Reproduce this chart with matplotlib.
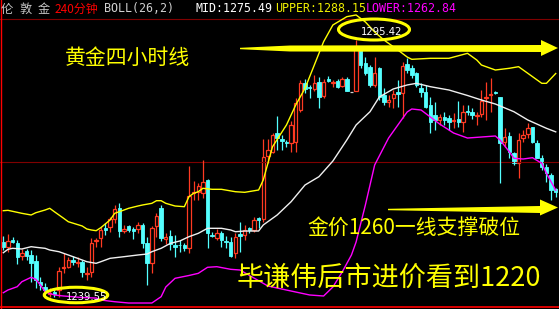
import matplotlib
matplotlib.use("Agg")
import matplotlib.pyplot as plt
from matplotlib.patches import Ellipse, Polygon
import numpy as np

plt.rcParams["font.family"] = ["Noto Sans CJK SC", "DejaVu Sans"]

# 240-minute London gold candles
opens = [1251.65, 1250.44, 1252.02, 1251.30, 1248.55, 1249.63, 1248.77, 1247.46, 1242.97, 1241.82,
         1240.30, 1240.74, 1241.17, 1245.88, 1246.23, 1247.68, 1247.14, 1247.31, 1244.64, 1245.14,
         1251.91, 1252.39, 1254.56, 1254.78, 1256.58, 1258.90, 1253.97, 1255.06, 1254.47, 1254.34,
         1255.28, 1251.43, 1246.96, 1255.06, 1258.90, 1252.17, 1252.89, 1250.94, 1251.04, 1250.94,
         1250.22, 1262.28, 1262.50, 1262.15, 1265.04, 1253.21, 1252.39, 1253.60, 1251.74, 1251.65,
         1249.13, 1253.32, 1253.10, 1254.56, 1254.19, 1256.73, 1256.51, 1270.25, 1271.18, 1275.17,
         1273.94, 1273.22, 1273.00, 1273.35, 1280.23, 1286.15, 1285.22, 1284.79, 1286.37, 1283.27,
         1286.85, 1286.15, 1286.52, 1285.50, 1286.96, 1284.07, 1284.35, 1293.62, 1290.36, 1289.63,
         1285.66, 1289.28, 1283.49, 1281.90, 1282.77, 1284.20, 1283.85, 1290.15, 1289.41, 1288.19,
         1284.94, 1284.07, 1281.32, 1279.15, 1278.06, 1278.78, 1278.56, 1277.84, 1278.28, 1277.56,
         1280.01, 1279.86, 1278.93, 1279.30, 1282.77, 1283.49, 1284.07, 1283.12, 1273.22, 1274.65,
         1270.83, 1268.66, 1274.22, 1275.02, 1276.61, 1273.00, 1269.75, 1267.93, 1266.13, 1263.09]
highs = [1252.89, 1253.32, 1252.67, 1252.02, 1250.13, 1250.13, 1249.85, 1248.77, 1244.06, 1242.76,
         1241.60, 1241.39, 1246.16, 1249.20, 1248.40, 1248.55, 1248.40, 1247.68, 1246.16, 1252.45,
         1252.45, 1254.91, 1255.71, 1257.08, 1259.62, 1259.98, 1255.28, 1255.28, 1254.91, 1255.99,
         1255.64, 1252.74, 1255.06, 1257.94, 1259.62, 1253.47, 1254.19, 1253.10, 1252.02, 1251.37,
         1268.08, 1264.82, 1264.32, 1269.38, 1265.26, 1253.82, 1254.34, 1253.97, 1252.89, 1252.74,
         1253.60, 1255.99, 1255.28, 1254.91, 1257.08, 1257.08, 1273.94, 1273.87, 1275.17, 1278.99,
         1274.81, 1273.72, 1277.84, 1282.77, 1286.74, 1286.96, 1285.66, 1287.83, 1287.46, 1286.89,
         1287.61, 1286.74, 1286.89, 1287.46, 1287.39, 1284.07, 1295.42, 1293.97, 1291.80, 1290.00,
         1291.80, 1289.63, 1284.94, 1283.49, 1284.57, 1286.74, 1290.71, 1291.45, 1290.00, 1288.54,
         1286.02, 1285.66, 1283.12, 1282.03, 1279.36, 1279.86, 1279.15, 1279.51, 1282.18, 1281.32,
         1281.32, 1280.60, 1279.86, 1284.57, 1286.37, 1287.24, 1284.35, 1283.12, 1276.26, 1275.39,
         1271.18, 1275.17, 1275.89, 1277.34, 1276.61, 1273.72, 1270.47, 1268.45, 1266.49, 1263.37]
lows = [1249.85, 1249.48, 1251.37, 1246.75, 1247.68, 1247.68, 1242.97, 1241.67, 1241.17, 1240.67,
        1239.72, 1239.55, 1239.72, 1244.92, 1245.88, 1246.60, 1246.10, 1243.93, 1243.34, 1244.06,
        1250.57, 1250.57, 1253.10, 1253.82, 1255.64, 1252.74, 1253.47, 1253.82, 1252.17, 1253.60,
        1250.35, 1242.26, 1244.79, 1252.74, 1251.87, 1251.15, 1249.85, 1248.40, 1249.48, 1249.53,
        1249.26, 1260.70, 1260.70, 1261.07, 1250.22, 1252.74, 1252.02, 1250.57, 1250.22, 1248.40,
        1248.05, 1249.48, 1252.02, 1253.47, 1253.82, 1254.56, 1255.99, 1268.66, 1270.83, 1271.55,
        1271.55, 1272.27, 1271.18, 1271.18, 1279.86, 1283.98, 1282.77, 1284.35, 1280.60, 1282.77,
        1286.24, 1285.29, 1285.07, 1285.29, 1284.35, 1284.07, 1284.35, 1289.28, 1287.83, 1285.29,
        1285.29, 1282.40, 1281.32, 1280.95, 1280.60, 1280.95, 1278.43, 1288.19, 1287.11, 1285.29,
        1283.12, 1280.60, 1275.17, 1275.89, 1276.98, 1276.98, 1275.89, 1276.26, 1276.61, 1275.52,
        1279.15, 1278.28, 1276.98, 1278.78, 1278.06, 1279.86, 1283.80, 1264.32, 1272.27, 1269.75,
        1268.30, 1265.41, 1273.35, 1274.22, 1273.07, 1269.75, 1267.29, 1264.67, 1260.70, 1261.42]
closes = [1250.44, 1251.87, 1251.52, 1248.40, 1249.13, 1248.55, 1246.96, 1243.34, 1242.26, 1241.17,
          1240.60, 1240.30, 1245.29, 1246.23, 1247.68, 1247.31, 1247.31, 1245.14, 1244.86, 1251.30,
          1252.13, 1254.19, 1254.19, 1256.51, 1258.68, 1253.97, 1254.41, 1254.19, 1254.04, 1255.28,
          1251.43, 1246.96, 1254.69, 1257.23, 1252.39, 1252.61, 1251.09, 1250.57, 1250.83, 1250.18,
          1261.57, 1262.50, 1263.74, 1264.67, 1253.47, 1252.99, 1253.47, 1252.02, 1251.59, 1248.55,
          1252.74, 1252.95, 1254.19, 1254.19, 1256.36, 1256.36, 1269.96, 1271.55, 1274.81, 1274.09,
          1273.50, 1273.07, 1276.98, 1281.68, 1286.02, 1284.79, 1285.07, 1286.02, 1283.12, 1286.37,
          1286.63, 1286.37, 1285.29, 1286.96, 1284.35, 1284.07, 1293.62, 1290.00, 1288.19, 1285.66,
          1288.19, 1283.12, 1281.90, 1282.40, 1283.64, 1283.64, 1289.84, 1288.91, 1287.83, 1285.66,
          1284.07, 1280.95, 1277.69, 1278.06, 1278.78, 1278.06, 1277.69, 1278.06, 1277.56, 1279.86,
          1279.73, 1279.15, 1279.15, 1282.18, 1283.12, 1283.70, 1283.90, 1273.13, 1274.44, 1271.18,
          1268.66, 1273.72, 1274.81, 1276.26, 1273.35, 1269.88, 1267.93, 1266.49, 1262.87, 1262.50]

# BOLL(26,2) lines, read at these candle positions
upper_idx = [0, 1, 3, 4, 6, 7, 9, 10, 11, 13, 14, 17, 18, 19, 20, 21, 23, 24, 26, 27, 29, 30,
             32, 33, 34, 35, 37, 39, 40, 41, 42, 43, 45, 47, 50, 52, 55, 56, 57, 58, 61, 63, 65,
             67, 69, 71, 74, 76, 78, 80, 82, 85, 87, 88, 92, 96, 100, 102, 103, 106, 109, 111,
             113, 116, 117, 119]
upper_val = [1258.38, 1258.46, 1258.03, 1257.81, 1257.45, 1257.94, 1258.53, 1258.90, 1258.16,
             1256.73, 1255.99, 1255.06, 1254.41, 1254.19, 1254.04, 1254.69, 1256.36, 1257.81,
             1258.53, 1258.90, 1259.40, 1259.62, 1259.98, 1260.55, 1260.55, 1259.98, 1259.40,
             1259.25, 1261.42, 1262.15, 1262.50, 1263.24, 1263.02, 1263.02, 1262.50, 1262.37,
             1262.87, 1265.04, 1268.66, 1272.27, 1276.98, 1281.32, 1284.94, 1289.99, 1295.05,
             1298.68, 1300.48, 1300.85, 1299.33, 1297.16, 1295.42, 1293.25, 1291.73, 1291.23,
             1291.45, 1291.45, 1292.53, 1291.08, 1289.99, 1288.91, 1289.28, 1289.63, 1288.19,
             1286.02, 1286.02, 1288.15]
mid_idx = [0, 1, 2, 4, 6, 7, 9, 10, 12, 14, 16, 18, 20, 21, 23, 26, 29, 31, 32, 34, 36, 38,
           40, 42, 44, 47, 49, 50, 52, 55, 56, 59, 62, 65, 68, 71, 74, 76, 79, 81, 84, 87, 89,
           92, 96, 100, 103, 106, 110, 113, 117, 119]
mid_val = [1249.26, 1250.00, 1250.22, 1250.07, 1250.57, 1250.44, 1250.22, 1249.85, 1249.48,
           1248.77, 1248.05, 1247.31, 1246.96, 1247.31, 1248.05, 1248.40, 1248.77, 1248.98,
           1249.48, 1250.22, 1251.30, 1251.80, 1252.74, 1253.47, 1254.56, 1254.56, 1254.19,
           1253.82, 1253.97, 1253.97, 1255.28, 1257.45, 1260.33, 1263.96, 1265.76, 1269.16,
           1273.72, 1276.98, 1279.86, 1283.05, 1284.79, 1285.66, 1286.02, 1285.29, 1284.57,
           1283.38, 1282.40, 1281.53, 1279.86, 1278.06, 1276.26, 1275.49]
lower_idx = [0, 1, 3, 4, 6, 7, 8, 9, 11, 13, 17, 20, 21, 24, 27, 32, 34, 35, 37, 40, 42, 44,
             46, 49, 51, 54, 57, 62, 66, 69, 71, 73, 75, 76, 78, 80, 83, 85, 87, 88, 90, 92, 94,
             97, 100, 103, 106, 107, 109, 110, 112, 114, 116, 117, 119]
lower_val = [1240.58, 1241.17, 1241.89, 1242.97, 1243.93, 1243.49, 1242.26, 1240.80, 1240.09,
             1239.87, 1239.54, 1239.43, 1239.00, 1238.63, 1238.35, 1238.35, 1239.72, 1241.82,
             1243.71, 1244.32, 1244.79, 1246.10, 1246.23, 1245.66, 1245.51, 1243.77, 1242.04,
             1240.95, 1240.09, 1239.87, 1241.82, 1245.08, 1248.77, 1251.59, 1259.62, 1268.30,
             1274.15, 1276.98, 1279.80, 1280.45, 1280.23, 1278.71, 1277.19, 1275.24, 1274.15,
             1274.37, 1274.59, 1273.72, 1271.18, 1269.75, 1269.60, 1269.88, 1268.66, 1266.49,
             1262.84]

high_label = "1295.42"
low_label = "1239.55"

RED = "#ff3a22"
CYAN = "#54ffff"
YELLOW = "#ffff00"
W, H = 559, 309


def px(x, y):
    # pixel position -> axes fraction (used only for the annotations)
    return (x / W, 1 - y / H)


fig = plt.figure(figsize=(W / 100, H / 100), dpi=100, facecolor="black")
ax = fig.add_axes((0, 0, 1, 1))
ax.set_facecolor("black")
ax.set_xlim(-0.71, 119.71)
ax.set_ylim(1237.05, 1304.10)
ax.set_axis_off()

# frame / grid
ax.axhline(1299.98, color="#800000", lw=0.8)
ax.axhline(1268.95, color="#800000", lw=0.8)
ax.axhline(1237.59, color="#ff0000", lw=1.2)
ax.axvline(-0.49, color="#ff0000", lw=1.0)

o = np.array(opens)
h = np.array(highs)
l = np.array(lows)
c = np.array(closes)
x = np.arange(len(o))
up = c > o
dn = c < o
flat = c == o
bw = 0.74

ax.vlines(x[up], c[up], h[up], color=RED, lw=0.9)
ax.vlines(x[up], l[up], o[up], color=RED, lw=0.9)
ax.bar(x[up], c[up] - o[up], bottom=o[up], width=bw, fill=False, edgecolor=RED, linewidth=0.9)
ax.vlines(x[dn], l[dn], h[dn], color=CYAN, lw=0.9)
ax.bar(x[dn], o[dn] - c[dn], bottom=c[dn], width=bw, color=CYAN, edgecolor=CYAN, linewidth=0.6)
ax.hlines(c[flat], x[flat] - bw / 2, x[flat] + bw / 2, color="#d0d0d0", lw=0.9)

ax.plot(upper_idx, upper_val, color=YELLOW, lw=1.0, zorder=3)
ax.plot(mid_idx, mid_val, color="#f0f0f0", lw=1.0, zorder=3)
ax.plot(lower_idx, lower_val, color="#ff00ff", lw=1.0, zorder=3)

# header
for ch, cx in zip("伦敦金", [7, 26, 44]):
    ax.text(*px(cx, 9), ch, transform=ax.transAxes, color="#c8c8c8", fontsize=8.8,
            ha="center", va="center")
ax.text(*px(55, 9), "240分钟", transform=ax.transAxes, color="#ff0000", fontsize=8.6,
        ha="left", va="center")
mono = dict(transform=ax.transAxes, family="DejaVu Sans Mono", fontsize=8.4, ha="left", va="center")
ax.text(*px(104, 9), "BOLL(26,2)", color="#d0d0d0", **mono)
ax.text(*px(195, 9), "MID:%.2f" % mid_val[-1], color="#ffffff", **mono)
ax.text(*px(275, 9), "UPPER:%.2f" % upper_val[-1], color="#f0f000", **mono)
ax.text(*px(366, 9), "LOWER:%.2f" % lower_val[-1], color="#ff00ff", **mono)

# arrows
arrow1 = [(240, 47.8), (290, 45.5), (541, 45), (541, 40), (558, 48), (541, 56), (541, 52),
          (290, 51.5), (240, 49.2)]
arrow2 = [(388, 208.8), (540, 206), (540, 199.5), (558, 207.5), (540, 215.5), (540, 213),
          (388, 210.2)]
for pts in (arrow1, arrow2):
    ax.add_patch(Polygon([px(a, b) for a, b in pts], closed=True, transform=ax.transAxes,
                         facecolor=YELLOW, edgecolor="none", zorder=5))

# high / low marks
ax.add_patch(Ellipse(px(374, 29.5), 71 / W, 21 / H, transform=ax.transAxes, fill=False,
                     edgecolor=YELLOW, lw=2.2, zorder=5))
ax.add_patch(Ellipse(px(76, 295), 63.5 / W, 15.5 / H, transform=ax.transAxes, fill=False,
                     edgecolor=YELLOW, lw=2.2, zorder=5))
ax.text(*px(382, 32), high_label, transform=ax.transAxes, color="white", fontsize=7.2,
        family="DejaVu Sans", ha="center", va="center", zorder=6)
ax.text(*px(86.5, 297), low_label, transform=ax.transAxes, color="white", fontsize=7.2,
        family="DejaVu Sans", ha="center", va="center", zorder=6)

# captions
ax.text(*px(127, 57.5), "黄金四小时线", transform=ax.transAxes, color=YELLOW, fontsize=15,
        ha="center", va="center", zorder=6)
ax.text(*px(414, 227.5), "金价1260一线支撑破位", transform=ax.transAxes, color=YELLOW,
        fontsize=15, ha="center", va="center", zorder=6)
ax.text(*px(388.5, 278.5), "毕谦伟后市进价看到1220", transform=ax.transAxes, color=YELLOW,
        fontsize=19.5, ha="center", va="center", zorder=6)

fig.savefig("out.png", dpi=100, facecolor="black")
